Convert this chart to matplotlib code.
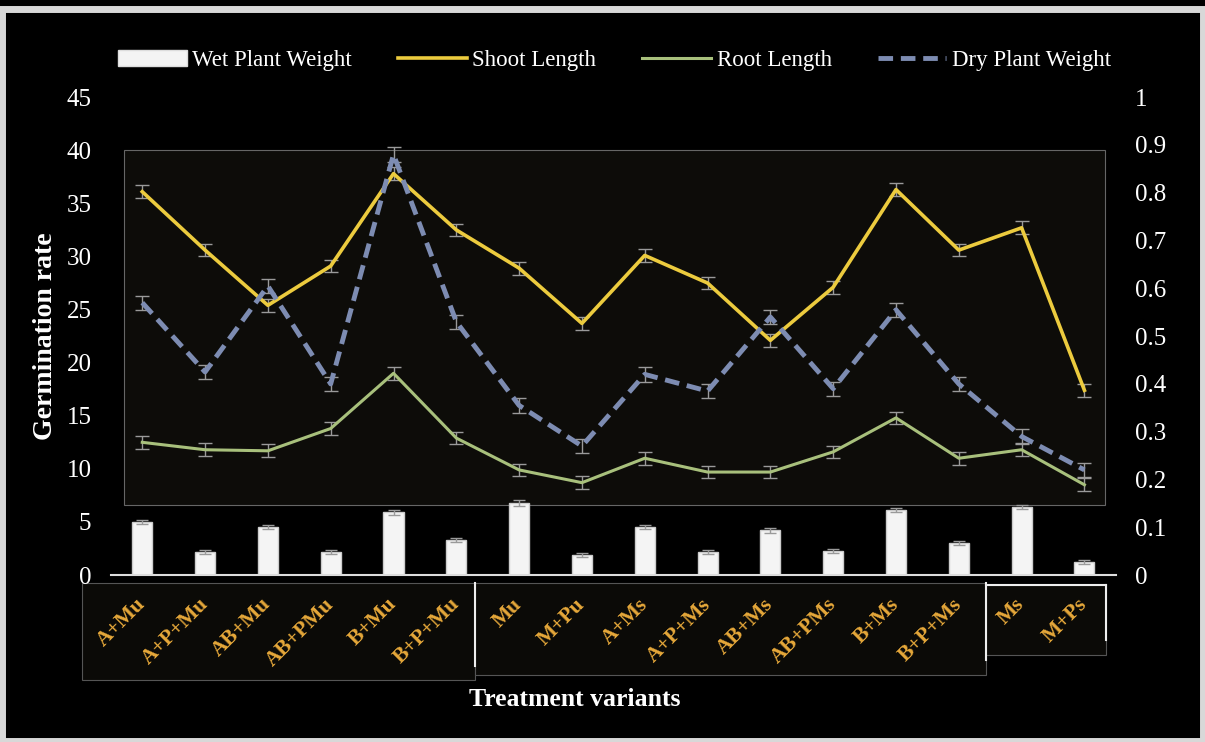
import numpy as np
import matplotlib.pyplot as plt
from matplotlib.patches import Rectangle
from matplotlib.lines import Line2D
from matplotlib.patches import Patch

# ============================== data =========================================

treatments = ["A+Mu", "A+P+Mu", "AB+Mu", "AB+PMu", "B+Mu", "B+P+Mu", "Mu", "M+Pu",
              "A+Ms", "A+P+Ms", "AB+Ms", "AB+PMs", "B+Ms", "B+P+Ms", "Ms", "M+Ps"]

wet_weight = [5.0, 2.2, 4.5, 2.2, 5.9, 3.3, 6.8, 1.9, 4.5, 2.2, 4.2, 2.3, 6.1, 3.0, 6.4, 1.2]
wet_err = [0.2, 0.2, 0.2, 0.2, 0.2, 0.2, 0.3, 0.2, 0.2, 0.2, 0.2, 0.2, 0.2, 0.2, 0.2, 0.2]

shoot_length = [36.1, 30.6, 25.4, 29.1, 37.8, 32.5, 28.9, 23.7,
                30.1, 27.5, 22.1, 27.1, 36.3, 30.6, 32.7, 17.4]
shoot_err = [0.6] * 16

root_length = [12.5, 11.8, 11.7, 13.8, 19.0, 12.9, 9.9, 8.7,
               11.0, 9.7, 9.7, 11.6, 14.8, 11.0, 11.8, 8.5]
root_err = [0.6] * 16

dry_weight = [0.57, 0.425, 0.605, 0.40, 0.88, 0.53, 0.355, 0.27,
              0.42, 0.385, 0.54, 0.39, 0.555, 0.40, 0.29, 0.22]
dry_err = [0.015] * 16

# ============================== style ========================================

BG = "black"
FG = "white"
SHOOT_C = "#ECCB3E"
ROOT_C = "#A8C07C"
DRY_C = "#7D8CB2"
ERR_C = "#9a9a9a"
TICK_C = "#E6A83A"

plt.rcParams["font.family"] = ["Liberation Serif", "DejaVu Serif"]

# ============================== plot =========================================

fig = plt.figure(figsize=(12.05, 7.42), dpi=100, facecolor=BG)
ax = fig.add_axes([0.092, 0.225, 0.834, 0.644])
ax.set_facecolor(BG)
ax2 = ax.twinx()

x = np.arange(len(treatments))

# inner plotting panel
ax.add_patch(Rectangle((-0.29, 6.6), 15.61, 33.4, facecolor="#0d0c09",
                       edgecolor="#666666", linewidth=0.8, zorder=0))

ax.bar(x, wet_weight, width=0.32, color="#f4f4f4", edgecolor="#cccccc",
       yerr=wet_err, ecolor=ERR_C, capsize=4, error_kw={"elinewidth": 1}, zorder=2)

ax.errorbar(x, root_length, yerr=root_err, color=ROOT_C, lw=2.2, ecolor=ERR_C,
            elinewidth=1, capsize=5, capthick=1, zorder=3)
ax.errorbar(x, shoot_length, yerr=shoot_err, color=SHOOT_C, lw=2.6, ecolor=ERR_C,
            elinewidth=1, capsize=5, capthick=1, zorder=3)
ax2.errorbar(x, dry_weight, yerr=dry_err, color=DRY_C, lw=3.5, ls=(0, (3, 1.6)),
             ecolor=ERR_C, elinewidth=1, capsize=5, capthick=1, zorder=3)

ax.set_xlim(-0.5, len(treatments) - 0.5)
ax.set_ylim(0, 45)
ax2.set_ylim(0, 1)
ax.set_yticks(np.arange(0, 46, 5))
ax2.set_yticks(np.arange(0, 1.01, 0.1))
ax2.set_yticklabels(["0"] + ["%.1f" % v for v in np.arange(0.1, 0.95, 0.1)] + ["1"])

for a in (ax, ax2):
    for s in a.spines.values():
        s.set_visible(False)
    a.tick_params(axis="y", length=0, colors=FG, labelsize=18, pad=14)
ax.spines["bottom"].set_visible(True)
ax.spines["bottom"].set_color("#dddddd")
ax.spines["bottom"].set_linewidth(1.5)

ax.set_xticks(x)
ax.set_xticklabels(treatments, rotation=45, ha="right", va="center",
                   rotation_mode="anchor", color=TICK_C, fontweight="bold", fontsize=15.5)
ax.tick_params(axis="x", length=0, pad=19)

ax.set_ylabel("Germination rate", color=FG, fontsize=20, fontweight="bold", labelpad=6)
fig.text(0.477, 0.057, "Treatment variants", color=FG, fontsize=18.5,
         fontweight="bold", ha="center", va="center")

# boxes around the category label groups, with a bright right edge
for x0, y0, w, h in [(0.068, 0.083, 0.326, 0.131), (0.394, 0.090, 0.424, 0.124),
                     (0.818, 0.117, 0.100, 0.095)]:
    fig.patches.append(Rectangle((x0, y0), w, h, transform=fig.transFigure,
                                 facecolor="#0b0a07", edgecolor="#555555",
                                 linewidth=0.8, zorder=-1))
    fig.lines.append(Line2D([x0 + w, x0 + w], [y0 + 0.02, y0 + h],
                            transform=fig.transFigure, color="#eeeeee", lw=1.5))
fig.lines.append(Line2D([0.818, 0.918], [0.212, 0.212], transform=fig.transFigure,
                        color="#eeeeee", lw=1.5))

handles = [Patch(facecolor="#f4f4f4", edgecolor="#dddddd"),
           Line2D([], [], color=SHOOT_C, lw=2.6),
           Line2D([], [], color=ROOT_C, lw=2.2),
           Line2D([], [], color=DRY_C, lw=3.5, ls=(0, (3, 1.6)))]
labels = ["Wet Plant Weight", "Shoot Length", "Root Length", "Dry Plant Weight"]
leg = fig.legend(handles, labels, loc="center", bbox_to_anchor=(0.510, 0.918), ncol=4,
                 frameon=False, fontsize=16.5, handlelength=3.0, handletextpad=0.25,
                 columnspacing=2.0)
for t in leg.get_texts():
    t.set_color(FG)

# light outer frame
fig.patches.append(Rectangle((0.002, 0.002), 0.996, 0.986, transform=fig.transFigure,
                             fill=False, edgecolor="#d8d8d8", linewidth=5))

plt.savefig("out.png", facecolor=BG)
